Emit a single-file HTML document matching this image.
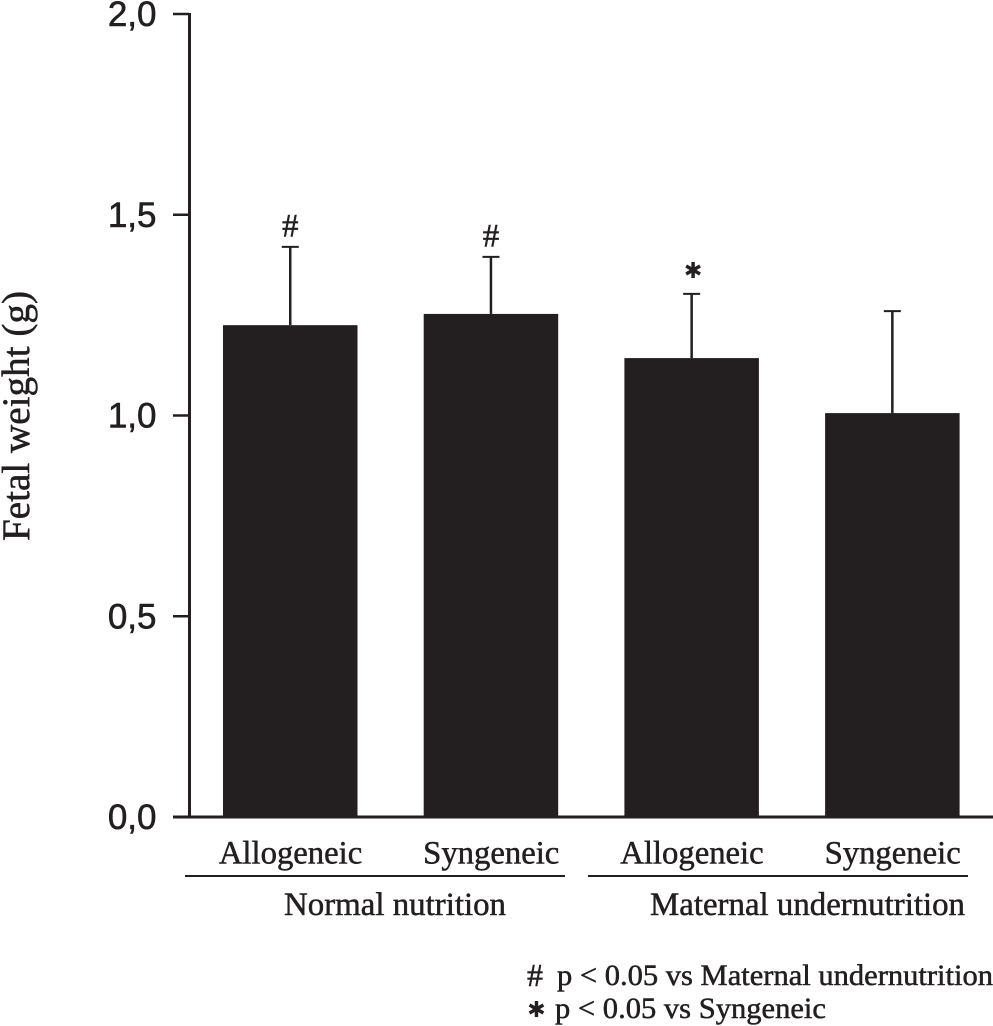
<!DOCTYPE html>
<html>
<head>
<meta charset="utf-8">
<title>Fetal weight chart</title>
<style>
html,body{margin:0;padding:0;background:#fff;}
svg{display:block;}
.sans{font-family:"Liberation Sans",Arial,sans-serif;stroke:#231f20;stroke-width:0.6px;}
.serif{font-family:"Liberation Serif","Times New Roman",serif;stroke:#231f20;stroke-width:0.5px;}
.glyph{font-family:"DejaVu Sans",sans-serif;}
</style>
</head>
<body>
<svg id="chart" width="993" height="1026" viewBox="0 0 993 1026" xmlns="http://www.w3.org/2000/svg">
  <rect x="0" y="0" width="993" height="1026" fill="#ffffff"/>
  <text class="serif" transform="translate(29,541) rotate(-90)" font-size="39" fill="#231f20" textLength="250" lengthAdjust="spacingAndGlyphs">Fetal weight (g)</text>
  <line x1="185" y1="876" x2="565" y2="876" stroke="#231f20" stroke-width="2"/>
  <line x1="588" y1="876" x2="968" y2="876" stroke="#231f20" stroke-width="2"/>
  <text class="serif" x="284" y="915" font-size="33" fill="#231f20" textLength="222" lengthAdjust="spacingAndGlyphs">Normal nutrition</text>
  <text class="serif" x="650" y="915" font-size="33" fill="#231f20" textLength="315" lengthAdjust="spacingAndGlyphs">Maternal undernutrition</text>
  <text class="serif" x="527" y="986" font-size="32" fill="#231f20">#</text>
  <text class="serif" x="557" y="985" font-size="29.5" fill="#231f20" textLength="436" lengthAdjust="spacingAndGlyphs">p &lt; 0.05 vs Maternal undernutrition</text>
  <text class="glyph" x="536.5" y="1017" text-anchor="middle" font-size="22" fill="#231f20">&#10033;</text>
  <text class="serif" x="555" y="1018" font-size="29.5" fill="#231f20" textLength="271" lengthAdjust="spacingAndGlyphs">p &lt; 0.05 vs Syngeneic</text>
  <g id="plot"></g>
</svg>
<script>
var categories = ['Allogeneic', 'Syngeneic', 'Allogeneic', 'Syngeneic'];
var barValues = [1.225, 1.253, 1.143, 1.006];
var errorTops = [1.42, 1.395, 1.303, 1.26];
var markers = ['#', '#', '*', ''];
var tickValues = [0, 0.5, 1, 1.5, 2];
var tickLabels = ['0,0', '0,5', '1,0', '1,5', '2,0'];

var INK = '#231f20';
var SVGNS = 'http://www.w3.org/2000/svg';
var plot = document.getElementById('plot');

function yScale(v) { return 817 - v * 401.5; }
function xBandLeft(i) { return 223 + i * 200.7; }
var bandWidth = 134.5;
function xCenter(i) { return xBandLeft(i) + bandWidth / 2; }

function make(tag, attrs, parent) {
  var el = document.createElementNS(SVGNS, tag);
  for (var k in attrs) { el.setAttribute(k, attrs[k]); }
  (parent || plot).appendChild(el);
  return el;
}

categories.forEach(function (cat, i) {
  var cx = xCenter(i);
  var top = yScale(barValues[i]);
  var errTop = yScale(errorTops[i]);

  var stem = make('line', { x1: cx, x2: cx, y1: errTop, y2: top, stroke: INK, 'stroke-width': 2.5 });
  
  

  var cap = make('line', { x1: cx - 8.5, x2: cx + 8.5, y1: errTop, y2: errTop, stroke: INK, 'stroke-width': 2 });
  
  

  var bar = make('rect', { x: xBandLeft(i), y: top, width: bandWidth, height: yScale(0) - top, fill: INK });
  
  

  var label = make('text', { x: cx + 0.3, y: 863.5, 'text-anchor': 'middle', 'font-size': 32.7, fill: INK, 'class': 'serif' });
  
  
  label.textContent = cat;

  if (markers[i] === '#') {
    var hash = make('text', { x: cx, y: errTop - 10.5, 'text-anchor': 'middle', 'font-size': 33, fill: INK, 'class': 'serif' });
    
    
    hash.textContent = markers[i];
  } else if (markers[i] === '*') {
    var star = make('text', { x: cx + 1.5, y: errTop - 16, 'text-anchor': 'middle', 'font-size': 22, fill: INK, 'class': 'glyph' });
    
    
    star.textContent = '\u2731';
  }
});

var yAxis = make('line', { x1: 189.5, x2: 189.5, y1: yScale(2) - 1, y2: yScale(0), stroke: INK, 'stroke-width': 3 });



var xAxis = make('line', { x1: 173, x2: 993, y1: yScale(0), y2: yScale(0), stroke: INK, 'stroke-width': 3 });



tickValues.forEach(function (v, i) {
  var y = yScale(v);
  var tick = make('line', { x1: 173, x2: 189, y1: y, y2: y, stroke: INK, 'stroke-width': 2.5 });
  
  

  var t = make('text', { x: 156.5, y: y + 12, 'text-anchor': 'end', 'font-size': 35, fill: INK, 'class': 'sans' });
  
  
  t.textContent = tickLabels[i];
});
</script>
</body>
</html>
